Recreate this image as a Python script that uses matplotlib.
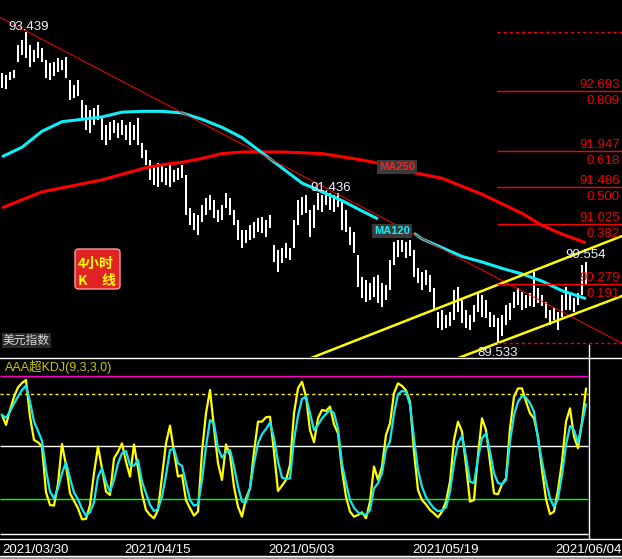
import matplotlib

matplotlib.use("Agg")
import matplotlib.pyplot as plt
import numpy as np
from matplotlib.lines import Line2D
from matplotlib.patches import FancyBboxPatch, Rectangle

plt.rcParams["font.family"] = ["Liberation Sans", "Noto Sans CJK SC", "DejaVu Sans"]

W, H = 622, 559

# US dollar index, 4h bars (one slot = two source bars), high / low
highs = [
    92.92, 92.90, 92.93, 92.96, 93.27, 93.34, 93.44, 93.27, 93.21, 93.31,
    93.24, 93.08, 93.05, 93.06, 93.11, 93.08, 93.12, 92.83, 92.77, 92.83,
    92.58, 92.52, 92.46, 92.48, 92.52, 92.36, 92.27, 92.31, 92.33, 92.29,
    92.33, 92.27, 92.31, 92.27, 92.36, 92.04, 91.96, 91.83, 91.77, 91.79,
    91.77, 91.73, 91.77, 91.70, 91.73, 91.77, 91.64, 91.23, 91.17, 91.14,
    91.26, 91.35, 91.39, 91.33, 91.20, 91.26, 91.42, 91.35, 91.20, 91.08,
    90.95, 90.95, 91.01, 91.05, 91.10, 91.11, 91.08, 91.14, 90.76, 90.70,
    90.72, 90.79, 90.72, 91.08, 91.33, 91.37, 91.39, 91.20, 91.26, 91.42,
    91.39, 91.44, 91.42, 91.39, 91.42, 91.33, 91.20, 90.99, 90.93, 90.64,
    90.36, 90.32, 90.29, 90.36, 90.39, 90.29, 90.26, 90.58, 90.80, 90.83,
    90.83, 90.80, 90.83, 90.70, 90.47, 90.43, 90.45, 90.39, 90.22, 89.92,
    89.95, 89.89, 89.92, 90.20, 90.24, 90.07, 89.95, 89.89, 90.01, 90.16,
    90.14, 90.07, 89.92, 89.89, 89.85, 89.89, 90.01, 90.04, 90.17, 90.22,
    90.17, 90.14, 90.16, 90.43, 90.22, 90.14, 90.05, 89.95, 89.97, 89.92,
    90.14, 90.24, 90.16, 90.10, 90.16, 90.51, 90.55,
]
lows = [
    92.73, 92.72, 92.83, 92.86, 93.06, 93.15, 93.11, 93.00, 93.06, 93.11,
    93.06, 92.86, 92.83, 92.88, 92.93, 92.96, 92.86, 92.58, 92.61, 92.63,
    92.36, 92.21, 92.17, 92.27, 92.33, 92.08, 92.02, 92.08, 92.17, 92.11,
    92.14, 92.08, 92.02, 92.08, 92.02, 91.85, 91.77, 91.58, 91.52, 91.49,
    91.55, 91.52, 91.49, 91.55, 91.58, 91.60, 91.14, 91.01, 90.95, 90.89,
    91.05, 91.14, 91.20, 91.10, 91.05, 91.08, 91.23, 91.14, 91.01, 90.83,
    90.72, 90.79, 90.83, 90.85, 90.93, 90.91, 90.86, 90.98, 90.55, 90.43,
    90.54, 90.60, 90.58, 90.72, 91.01, 91.14, 91.17, 90.86, 90.98, 91.20,
    91.18, 91.26, 91.20, 91.18, 91.24, 90.95, 90.93, 90.76, 90.66, 90.24,
    90.10, 90.05, 90.07, 90.11, 90.04, 89.99, 90.07, 90.20, 90.51, 90.61,
    90.67, 90.60, 90.62, 90.36, 90.29, 90.20, 90.26, 90.17, 89.95, 89.72,
    89.70, 89.72, 89.75, 89.82, 89.92, 89.78, 89.72, 89.70, 89.80, 89.92,
    89.86, 89.85, 89.73, 89.73, 89.53, 89.62, 89.76, 89.82, 89.97, 90.01,
    89.95, 89.97, 90.00, 89.99, 90.04, 90.00, 89.85, 89.76, 89.82, 89.70,
    89.86, 89.95, 89.95, 89.92, 90.01, 90.14, 90.26,
]

# moving averages (nan = gap under the label)
ma_idx = [0, 5, 10, 15, 20, 25, 30, 35, 40, 45, 50, 55, 60, 65, 70, 75, 80, 85, 90, 94,
          98, 103, 105, 110, 115, 120, 125, 130, 135, 140, 146]
ma120 = [91.87, 91.99, 92.19, 92.31, 92.34, 92.37, 92.43, 92.44, 92.44, 92.42,
         92.34, 92.24, 92.11, 91.92, 91.73, 91.54, 91.43, 91.32, 91.19, 91.09,
         np.nan, 90.91, 90.84, 90.73, 90.62, 90.55, 90.47, 90.40, 90.31, 90.19, 90.09]
ma250 = [91.23, 91.33, 91.43, 91.48, 91.53, 91.58, 91.65, 91.72, 91.77, 91.80,
         91.85, 91.91, 91.93, 91.93, 91.93, 91.92, 91.91, 91.87, 91.83, 91.79,
         np.nan, 91.67, 91.65, 91.60, 91.50, 91.40, 91.28, 91.16, 91.01, 90.90, 90.79]

# hand-drawn lines: (bar, price) end points
down_trend = [(-0.5, 93.62), (155, 89.53)]
chan_upper = [(77.5, 89.35), (155, 90.876)]
chan_lower = [(114.3, 89.35), (155, 90.123)]

fib_low, fib_high = 89.533, 93.439
fib_start = 123.75
fib_ratios = [0.191, 0.382, 0.5, 0.618, 0.809]

peak_marks = [(6, 93.439, -18, 2), (81, 91.436, -16, 0), (124, 89.533, -21, -13), (146, 90.554, -21, 4)]

# AAA super KDJ (9,3,3,0)
k_line = [
    68, 62.3, 70.9, 78.3, 83.8, 86.3, 88, 67, 53.7, 52.4,
    50, 23.8, 16.6, 16.2, 28.8, 51.4, 39.4, 23.2, 19, 14.7,
    8.4, 8.6, 16.6, 34.7, 50, 37.5, 24.2, 22.3, 43.2, 47,
    51.8, 41.3, 32.8, 51.2, 37.5, 23.2, 13.7, 10.9, 9, 13.7,
    32.8, 51.8, 61.9, 47, 32.8, 33.7, 19.4, 14.7, 10.5, 12.8,
    47, 69, 82.3, 60.4, 40.4, 30.9, 51.2, 45.1, 27, 15.6,
    9.9, 20.4, 26.1, 47, 64.2, 64.2, 66.7, 67, 47, 24.6,
    27.6, 30.9, 39.4, 69, 83.2, 87, 78.5, 59.4, 52.4, 66.1,
    70.9, 70.3, 72.8, 62.7, 57.5, 36.6, 21.3, 12.8, 9.9, 10.9,
    12.4, 9, 18.5, 38.5, 30.9, 38.5, 56.6, 63.2, 80.4, 86.1,
    84.6, 82.1, 75.6, 47, 25.1, 19.4, 16.9, 13.7, 11.8, 9.5,
    12.8, 18.5, 29.9, 53.7, 64.2, 58.5, 39.4, 18.5, 19.4, 45.1,
    66.1, 59.4, 41.3, 23.2, 22.7, 28.4, 31.8, 60.4, 78.5, 83.2,
    83.2, 75.6, 69, 66, 55.6, 36.6, 20, 11.3, 12.8, 25.1,
    41.3, 64.2, 71.8, 55.6, 49, 64.2, 83,
]
d_line = [
    68, 66.4, 70, 74.5, 78.5, 82.3, 84.8, 75.6, 64.2, 58.9,
    53.2, 36.6, 24.2, 20.4, 26.1, 34.7, 41, 31.8, 23.8, 19.8,
    14.3, 10.5, 12.4, 18.1, 32.8, 37.5, 29.5, 24.2, 30.9, 40.4,
    46.2, 47.4, 39.4, 39, 42.3, 29.9, 23.2, 16.6, 13.1, 14.3,
    21.3, 33.7, 48, 48.6, 40.4, 39, 29, 19.4, 16.2, 17,
    30.9, 49.9, 65.1, 63.2, 49, 43.6, 46.7, 48, 38.5, 27,
    18.5, 18.1, 26.1, 40.4, 51.8, 57, 60, 63.6, 54.7, 41.3,
    32.2, 31.4, 31.8, 53.7, 67.6, 77.1, 78.5, 69, 59.4, 62.3,
    66.1, 68.6, 70.9, 69, 60.4, 40, 29.3, 19.4, 15, 12.4,
    11.6, 10.9, 13.7, 26.1, 29, 34.7, 48.4, 52.8, 69, 79.8,
    81.7, 81.3, 73.7, 54.7, 36.6, 27, 21.1, 17.5, 14.7, 13,
    13.5, 15.2, 24.2, 40.4, 51.8, 56, 44.2, 29.9, 29, 43.2,
    54.7, 57.5, 47, 34.7, 29.1, 28.4, 30.9, 52.8, 68, 75.6,
    78.9, 77.9, 74.7, 69.9, 54.3, 41.3, 29.9, 20.4, 15.6, 20.2,
    33.7, 50.9, 61.7, 59.4, 52.2, 63.2, 74,
]
kdj_levels = [0, 20, 50, 80, 90]

date_pos = [0, 30.5, 66.5, 102.5, 138.25]
date_labels = ["2021/03/30", "2021/04/15", "2021/05/03", "2021/05/19", "2021/06/04"]


def fig_line(fig, x0, y0, x1, y1, **kw):
    fig.add_artist(Line2D([x0 / W, x1 / W], [1 - y0 / H, 1 - y1 / H],
                          transform=fig.transFigure, **kw))


fig = plt.figure(figsize=(W / 100, H / 100), dpi=100, facecolor="black")
ax = fig.add_axes([0, 1 - 357 / H, 1, 357 / H])
ax2 = fig.add_axes([0, 1 - 538 / H, 1, 181 / H])
for a in (ax, ax2):
    a.set_axis_off()
    a.set_xlim(-0.5, 155)
ax.set_ylim(89.358, 93.837)
ax2.set_ylim(-2.29, 101.14)

# price bars
idx = np.arange(len(highs))
ax.vlines(idx, lows, highs, color="white", lw=1.2, antialiased=False)

# moving averages
ax.plot(ma_idx, ma250, color="#ff0000", lw=2.2, solid_capstyle="butt")
ax.plot(ma_idx, ma120, color="#10eef8", lw=2.2, solid_capstyle="butt")
ax.annotate("MA250", xy=(ma_idx[19], ma250[19]), xytext=(1, -4), textcoords="offset pixels",
            color="#ff2020", fontsize=8, fontweight="bold", ha="left", va="center",
            bbox=dict(boxstyle="square,pad=0.2", fc="#3a3a3a", ec="none"))
ax.annotate("MA120", xy=(ma_idx[19], ma120[19]), xytext=(-4, -12), textcoords="offset pixels",
            color="#10eef8", fontsize=8, fontweight="bold", ha="left", va="center",
            bbox=dict(boxstyle="square,pad=0.2", fc="#3a3a3a", ec="none"))

# trend lines
ax.plot(*zip(*down_trend), color="#ff0000", lw=0.7)
ax.plot(*zip(*chan_upper), color="#ffff00", lw=1.8)
ax.plot(*zip(*chan_lower), color="#ffff00", lw=1.8)

# fibonacci retracement
fib_red = "#ff0000"
thin = 1.0
span = fib_high - fib_low
for lvl in (fib_low, fib_high):
    ax.hlines(lvl, fib_start, 155, color=fib_red, lw=thin, linestyles=(0, (2.2, 2.2)))
for r in fib_ratios:
    lvl = fib_low + r * span
    ax.hlines(lvl, fib_start, 155, color=fib_red, lw=thin)
    ax.annotate(f"{lvl:.3f}", xy=(0.9968, lvl), xycoords=ax.get_yaxis_transform(),
                xytext=(0, 3), textcoords="offset pixels", ha="right", va="baseline",
                color="#ee0000", fontsize=9.5)
    ax.annotate(f"{r:.3f}", xy=(0.9968, lvl), xycoords=ax.get_yaxis_transform(),
                xytext=(0, -13), textcoords="offset pixels", ha="right", va="baseline",
                color="#ee0000", fontsize=9.5)

for i, val, dx, dy in peak_marks:
    ax.annotate(f"{val:.3f}", xy=(i, val), xytext=(dx, dy), textcoords="offset pixels",
                ha="left", va="baseline", color="#eef4ff", fontsize=9.5)

# KDJ panel
level_styles = [("white", "solid"), ("#00ff00", "solid"), ("white", "solid"),
                ("#ffff00", (0, (2.2, 2.2))), ("#ff00c8", "solid")]
for lvl, (col, ls) in zip(kdj_levels, level_styles):
    ax2.hlines(lvl, -0.5, 146.5, color=col, lw=thin, linestyles=ls)
ax2.plot(idx, k_line, color="#ffff00", lw=1.6)
ax2.plot(idx, d_line, color="#10e8f0", lw=1.6)

for xp, lab in zip(date_pos, date_labels):
    ax2.annotate(lab, xy=(xp, 0), xycoords=ax2.get_xaxis_transform(), xytext=(0, -15),
                 textcoords="offset pixels", ha="left", va="baseline", color="white", fontsize=9.5)

fig.text(5 / W, 1 - 371 / H, "AAA超KDJ(9,3,3,0)", color="#c8c800", fontsize=9, va="baseline")

# frame lines
fig_line(fig, 0, 357.5, W, 357.5, color="white", lw=thin)
fig_line(fig, 588.5, 345, 588.5, 538, color="white", lw=thin)
fig_line(fig, 0, 538.5, W, 538.5, color="white", lw=thin)
fig_line(fig, 0, 555.5, W, 555.5, color="white", lw=thin)
fig.add_artist(Rectangle((0, 0), 1, 3 / H, transform=fig.transFigure, fc="#909090", ec="none"))

# labels on the chart
fig.text(3 / W, 1 - 344 / H, "美元指数", color="#d8d8d8", fontsize=8.5, va="baseline",
         family=["Noto Sans CJK SC"], bbox=dict(boxstyle="square,pad=0.1", fc="#2a2a2a", ec="none"))

badge = FancyBboxPatch((75 / W, 1 - 289 / H), 45 / W, 40 / H, boxstyle="round,pad=0,rounding_size=0.006",
                       transform=fig.transFigure, fc="#e02424", ec="#ff9a9a", lw=1)
fig.add_artist(badge)
fig.text(96 / W, 1 - 268 / H, "4小时", color="#ffff00", fontsize=10, fontweight="bold",
         ha="center", va="baseline", family=["Noto Sans CJK SC"])
fig.text(78 / W, 1 - 285 / H, "K", color="#ffff00", fontsize=10, fontweight="bold",
         ha="left", va="baseline", family=["Noto Sans CJK SC"])
fig.text(115 / W, 1 - 285 / H, "线", color="#ffff00", fontsize=10, fontweight="bold",
         ha="right", va="baseline", family=["Noto Sans CJK SC"])

fig.savefig("out.png", dpi=100, facecolor="black")
